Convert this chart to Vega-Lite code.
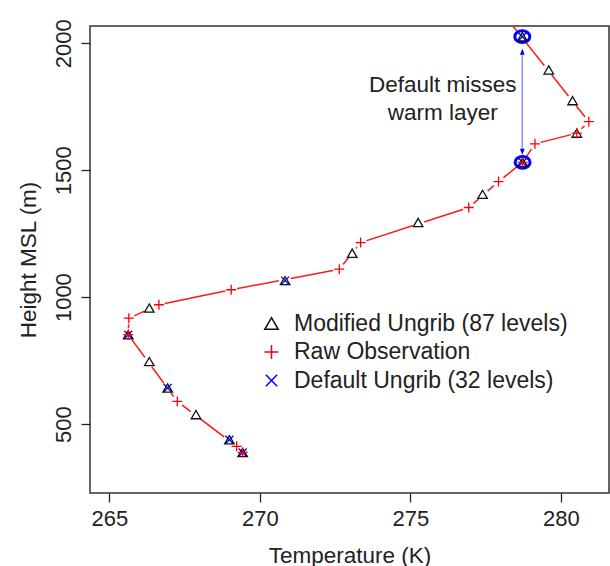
{
  "$schema": "https://vega.github.io/schema/vega-lite/v6.json",
  "width": 519,
  "height": 467,
  "autosize": {"type": "none"},
  "padding": {"left": 90, "top": 26, "right": 1, "bottom": 73},
  "background": "white",
  "config": {
    "view": {"stroke": "#333333", "strokeWidth": 1.5},
    "font": "Liberation Sans",
    "axis": {
      "domain": false, "grid": false, "tickColor": "#222222", "tickSize": 9, "tickWidth": 1.3,
      "labelFont": "Liberation Sans", "labelFontSize": 22, "labelColor": "#222222",
      "titleFont": "Liberation Sans", "titleFontSize": 22.5, "titleFontWeight": "normal", "titleColor": "#222222",
      "labelOverlap": false, "labelFlush": false
    }
  },
  "datasets": {
    "pts": [
      {"series": "Modified Ungrib (87 levels)", "T": 269.43, "H": 388},
      {"series": "Modified Ungrib (87 levels)", "T": 268.99, "H": 438},
      {"series": "Modified Ungrib (87 levels)", "T": 267.88, "H": 537},
      {"series": "Modified Ungrib (87 levels)", "T": 266.94, "H": 642},
      {"series": "Modified Ungrib (87 levels)", "T": 266.33, "H": 746},
      {"series": "Modified Ungrib (87 levels)", "T": 265.63, "H": 852},
      {"series": "Modified Ungrib (87 levels)", "T": 266.33, "H": 957},
      {"series": "Modified Ungrib (87 levels)", "T": 270.84, "H": 1065},
      {"series": "Modified Ungrib (87 levels)", "T": 273.07, "H": 1173},
      {"series": "Modified Ungrib (87 levels)", "T": 275.26, "H": 1294},
      {"series": "Modified Ungrib (87 levels)", "T": 277.40, "H": 1405},
      {"series": "Modified Ungrib (87 levels)", "T": 278.73, "H": 1531},
      {"series": "Modified Ungrib (87 levels)", "T": 280.53, "H": 1646},
      {"series": "Modified Ungrib (87 levels)", "T": 280.39, "H": 1774},
      {"series": "Modified Ungrib (87 levels)", "T": 279.60, "H": 1895},
      {"series": "Modified Ungrib (87 levels)", "T": 278.72, "H": 2026},
      {"series": "Raw Observation", "T": 269.43, "H": 388},
      {"series": "Raw Observation", "T": 269.23, "H": 412},
      {"series": "Raw Observation", "T": 267.26, "H": 589},
      {"series": "Raw Observation", "T": 265.63, "H": 852},
      {"series": "Raw Observation", "T": 265.65, "H": 917},
      {"series": "Raw Observation", "T": 266.65, "H": 970},
      {"series": "Raw Observation", "T": 269.05, "H": 1029},
      {"series": "Raw Observation", "T": 272.64, "H": 1110},
      {"series": "Raw Observation", "T": 273.35, "H": 1215},
      {"series": "Raw Observation", "T": 276.94, "H": 1353},
      {"series": "Raw Observation", "T": 277.93, "H": 1455},
      {"series": "Raw Observation", "T": 278.73, "H": 1531},
      {"series": "Raw Observation", "T": 279.14, "H": 1604},
      {"series": "Raw Observation", "T": 280.53, "H": 1646},
      {"series": "Raw Observation", "T": 280.93, "H": 1691},
      {"series": "Raw Observation", "T": 278.06, "H": 2120},
      {"series": "Default Ungrib (32 levels)", "T": 269.43, "H": 388},
      {"series": "Default Ungrib (32 levels)", "T": 268.99, "H": 438},
      {"series": "Default Ungrib (32 levels)", "T": 266.94, "H": 642},
      {"series": "Default Ungrib (32 levels)", "T": 265.63, "H": 852},
      {"series": "Default Ungrib (32 levels)", "T": 270.84, "H": 1065},
      {"series": "Default Ungrib (32 levels)", "T": 278.73, "H": 1531},
      {"series": "Default Ungrib (32 levels)", "T": 278.72, "H": 2026}
    ],
    "circles": [{"T": 278.72, "H": 2026}, {"T": 278.73, "H": 1531}],
    "arrow": [{"T": 278.72, "H1": 1572, "H2": 1967}],
    "headUp": [{"T": 278.72, "H": 1967}],
    "headDown": [{"T": 278.72, "H": 1572}],
    "notes": [
      {"T": 276.08, "H": 1836, "label": "Default misses"},
      {"T": 276.08, "H": 1726, "label": "warm layer"}
    ]
  },
  "layer": [
    {
      "data": {"name": "pts"},
      "transform": [{"filter": "datum.series === 'Raw Observation'"}],
      "mark": {"type": "line", "color": "#ff1a1a", "strokeWidth": 1.5, "clip": true},
      "encoding": {
        "x": {"field": "T", "type": "quantitative", "scale": {"domain": [264.36, 281.6], "nice": false, "zero": false},
              "axis": {"values": [265, 270, 275, 280], "labelPadding": 6, "titlePadding": 15, "title": "Temperature (K)"}},
        "y": {"field": "H", "type": "quantitative", "scale": {"domain": [228.3, 2068.1], "nice": false, "zero": false},
              "axis": {"values": [500, 1000, 1500, 2000], "format": "d", "labelAngle": 270, "labelAlign": "center", "labelBaseline": "bottom", "labelPadding": 6, "titlePadding": 12, "title": "Height MSL (m)"}},
        "order": {"field": "H", "type": "quantitative"}
      }
    },
    {
      "data": {"name": "pts"},
      "transform": [{"filter": "datum.series !== 'Default Ungrib (32 levels)'"}],
      "mark": {"type": "point", "shape": "circle", "filled": true, "color": "white", "size": 150, "opacity": 1, "strokeWidth": 0, "clip": true},
      "encoding": {
        "x": {"field": "T", "type": "quantitative"},
        "y": {"field": "H", "type": "quantitative"}
      }
    },
    {
      "data": {"name": "arrow"},
      "mark": {"type": "rule", "color": "#8c8cff", "strokeWidth": 1.5},
      "encoding": {
        "x": {"field": "T", "type": "quantitative"},
        "y": {"field": "H1", "type": "quantitative"},
        "y2": {"field": "H2"}
      }
    },
    {
      "data": {"name": "headUp"},
      "mark": {"type": "point", "shape": "M0,-1L0.75,1L-0.75,1Z", "filled": true, "color": "#0000ff", "size": 40, "opacity": 1},
      "encoding": {
        "x": {"field": "T", "type": "quantitative"},
        "y": {"field": "H", "type": "quantitative"}
      }
    },
    {
      "data": {"name": "headDown"},
      "mark": {"type": "point", "shape": "M0,1L0.75,-1L-0.75,-1Z", "filled": true, "color": "#0000ff", "size": 40, "opacity": 1},
      "encoding": {
        "x": {"field": "T", "type": "quantitative"},
        "y": {"field": "H", "type": "quantitative"}
      }
    },
    {
      "data": {"name": "circles"},
      "mark": {"type": "point", "shape": "M-1,0A1,0.78 0 1,0 1,0A1,0.78 0 1,0 -1,0Z", "filled": false, "color": "#0000ff", "strokeWidth": 3, "size": 225, "opacity": 1},
      "encoding": {
        "x": {"field": "T", "type": "quantitative"},
        "y": {"field": "H", "type": "quantitative"}
      }
    },
    {
      "data": {"name": "pts"},
      "mark": {"type": "point", "filled": false, "strokeWidth": 1.3, "size": 100, "opacity": 1, "clip": true},
      "encoding": {
        "x": {"field": "T", "type": "quantitative"},
        "y": {"field": "H", "type": "quantitative"},
        "shape": {"field": "series", "type": "nominal",
          "scale": {"domain": ["Modified Ungrib (87 levels)", "Raw Observation", "Default Ungrib (32 levels)"],
                    "range": ["M0,-0.82L0.95,0.82L-0.95,0.82Z", "M-1,0H1M0,-1V1", "M-0.8,-0.8L0.8,0.8M0.8,-0.8L-0.8,0.8"]},
          "legend": {"orient": "none", "legendX": 170, "legendY": 286, "title": null, "padding": 0,
                     "labelFontSize": 23, "labelFont": "Liberation Sans", "labelColor": "#222222", "symbolSize": 200,
                     "symbolStrokeWidth": 1.5, "labelOffset": 11, "rowPadding": 4.5, "labelLimit": 400}},
        "color": {"field": "series", "type": "nominal",
          "scale": {"domain": ["Modified Ungrib (87 levels)", "Raw Observation", "Default Ungrib (32 levels)"],
                    "range": ["#111111", "#ff0000", "#0000ff"]},
          "legend": {"orient": "none", "legendX": 170, "legendY": 286, "title": null, "padding": 0,
                     "labelFontSize": 23, "labelFont": "Liberation Sans", "labelColor": "#222222", "symbolSize": 200,
                     "symbolStrokeWidth": 1.5, "labelOffset": 11, "rowPadding": 4.5, "labelLimit": 400}},
        "order": {"field": "series", "sort": "ascending"}
      }
    },
    {
      "data": {"name": "notes"},
      "mark": {"type": "text", "fontSize": 22.5, "font": "Liberation Sans", "color": "#222222", "align": "center", "baseline": "middle"},
      "encoding": {
        "x": {"field": "T", "type": "quantitative"},
        "y": {"field": "H", "type": "quantitative"},
        "text": {"field": "label"}
      }
    }
  ]
}
